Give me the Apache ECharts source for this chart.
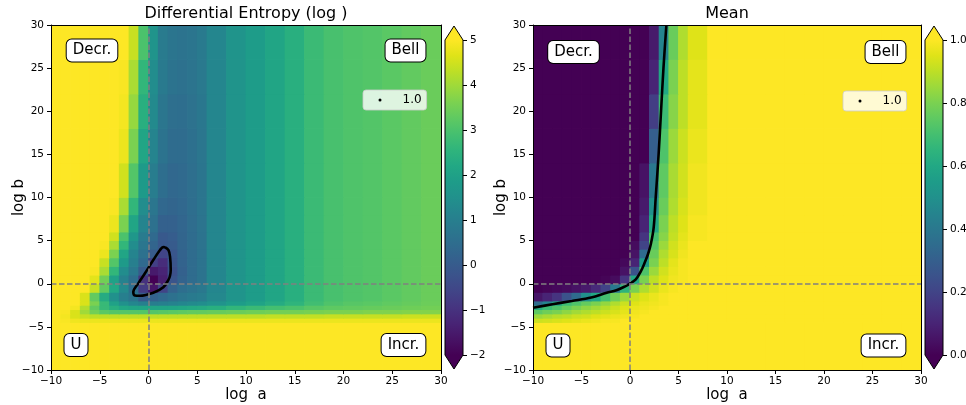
<!DOCTYPE html>
<html><head><meta charset="utf-8">
<script src="https://cdn.jsdelivr.net/npm/echarts@6/dist/echarts.min.js"></script>
<style>html,body{margin:0;padding:0;background:#fff}#c{width:966px;height:405px}</style>
</head><body><div id="c"></div>
<script>
// ---- data ----
const titles = ['Differential Entropy (log )', 'Mean'];
const xName = 'log  a';
const yName = 'log b';
const regionLabels = ['Decr.', 'Bell', 'U', 'Incr.'];
const legendLabel = '1.0';
const entropyRange = [-2, 5];
const meanRange = [0, 1];

// cell edges of the value grid (data units)
const xEdges = [-10,-9,-8,-7,-6,-5,-4,-3,-2,-1,0,1,2,3,4,5,6,8,10,12,14,16,18,20,22,24,26,28,30];
const yEdges = [-10,-4.5,-4,-3.5,-3,-2.5,-2,-1,0,1,2,3,4,5,6,8,10,14,18,22,26,30];

// differential entropy, rows from bottom (y=-10) to top (y=30)
const entropyRows = [
 [5,5,5,5,5,5,5,5,5,5,5,5,5,5,5,5,5,5,5,5,5,5,5,5,5,5,5,5],
 [5,4.95,4.85,4.8,4.8,4.8,4.8,4.8,4.8,4.8,4.8,4.8,4.8,4.8,4.8,4.8,4.8,4.8,4.8,4.8,4.8,4.8,4.8,4.8,4.8,4.8,4.8,4.8],
 [5,4.9,4.6,4.4,4.3,4.3,4.3,4.3,4.3,4.3,4.3,4.3,4.3,4.3,4.3,4.3,4.3,4.3,4.3,4.35,4.35,4.35,4.4,4.4,4.4,4.4,4.45,4.45],
 [5,4.95,4.6,4.0,3.5,3.2,3.1,3.1,3.1,3.1,3.1,3.15,3.2,3.25,3.3,3.3,3.35,3.4,3.45,3.5,3.5,3.55,3.6,3.6,3.65,3.65,3.7,3.7],
 [5,5,4.9,4.2,3.3,2.7,2.4,2.2,2.1,2.1,2.1,2.1,2.15,2.2,2.25,2.3,2.4,2.6,2.75,2.9,3.0,3.15,3.25,3.3,3.35,3.4,3.45,3.5],
 [5,5,5,4.6,3.6,2.7,2.0,1.5,1.2,1.0,0.95,1.0,1.1,1.2,1.3,1.4,1.55,1.85,2.05,2.3,2.55,2.85,3.05,3.15,3.2,3.28,3.35,3.42],
 [5,5,5,4.6,3.3,2.3,1.5,1.0,0.7,0.0,0.2,0.4,0.6,0.75,0.85,0.95,1.25,1.6,1.85,2.1,2.4,2.75,2.95,3.05,3.1,3.2,3.3,3.4],
 [5,5,5,5,4.4,3.3,2.2,1.3,0.5,-0.8,-1.6,-0.6,0.2,0.5,0.65,0.8,1.2,1.6,1.85,2.1,2.4,2.75,2.95,3.05,3.1,3.2,3.3,3.4],
 [5,5,5,5,4.7,3.5,2.0,1.1,0.5,-1.0,-2.0,-1.4,-0.2,0.2,0.45,0.65,1.2,1.6,1.85,2.1,2.4,2.75,2.95,3.05,3.1,3.2,3.3,3.4],
 [5,5,5,5,4.95,4.1,2.6,1.4,0.8,0.0,-1.5,-1.3,-0.3,0.15,0.45,0.65,1.2,1.6,1.85,2.1,2.4,2.75,2.95,3.05,3.1,3.2,3.3,3.4],
 [5,5,5,5,5,4.4,3.1,1.8,1.0,0.4,-0.7,-1.1,-0.2,0.2,0.45,0.65,1.2,1.6,1.85,2.1,2.4,2.75,2.95,3.05,3.1,3.2,3.3,3.4],
 [5,5,5,5,5,4.8,3.6,2.1,1.15,0.6,0.0,-0.6,-0.15,0.2,0.45,0.65,1.2,1.6,1.85,2.1,2.4,2.75,2.95,3.05,3.1,3.2,3.3,3.4],
 [5,5,5,5,5,4.95,4.1,2.6,1.4,0.75,0.25,-0.1,0.0,0.25,0.45,0.65,1.2,1.6,1.85,2.1,2.4,2.75,2.95,3.05,3.1,3.2,3.3,3.4],
 [5,5,5,5,5,5,4.5,3.0,1.7,0.9,0.4,-0.05,0.05,0.25,0.45,0.65,1.2,1.6,1.85,2.1,2.4,2.75,2.95,3.05,3.1,3.2,3.3,3.4],
 [5,5,5,5,5,5,4.8,3.6,2.1,1.15,0.6,0.15,0.15,0.3,0.48,0.68,1.2,1.6,1.85,2.1,2.4,2.75,2.95,3.05,3.1,3.2,3.3,3.4],
 [5,5,5,5,5,5,4.95,4.1,2.6,1.4,0.75,0.35,0.25,0.35,0.5,0.7,1.2,1.6,1.85,2.1,2.4,2.75,2.95,3.05,3.1,3.2,3.3,3.4],
 [5,5,5,5,5,5,5,4.5,3.1,1.8,0.95,0.5,0.35,0.4,0.55,0.72,1.2,1.6,1.85,2.1,2.4,2.75,2.95,3.05,3.1,3.2,3.3,3.4],
 [5,5,5,5,5,5,5,4.8,3.6,2.1,1.15,0.65,0.45,0.45,0.58,0.75,1.2,1.6,1.85,2.1,2.4,2.75,2.95,3.05,3.1,3.2,3.3,3.4],
 [5,5,5,5,5,5,5,4.9,3.9,2.4,1.3,0.75,0.55,0.52,0.62,0.78,1.2,1.6,1.85,2.1,2.4,2.75,2.95,3.05,3.1,3.2,3.3,3.4],
 [5,5,5,5,5,5,5,4.95,4.1,2.6,1.4,0.85,0.65,0.6,0.68,0.82,1.2,1.6,1.85,2.1,2.4,2.75,2.95,3.05,3.1,3.2,3.3,3.4],
 [5,5,5,5,5,5,5,5,4.4,3.0,1.6,0.9,0.7,0.65,0.7,0.85,1.2,1.6,1.85,2.1,2.4,2.75,2.95,3.05,3.1,3.2,3.3,3.4]
];

// mean, rows from bottom to top
const meanRows = [
 [1,1,1,1,1,1,1,1,1,1,1,1,1,1,1,1,1,1,1,1,1,1,1,1,1,1,1,1],
 [0.92,0.93,0.94,0.95,0.96,0.97,0.98,0.99,0.99,1,1,1,1,1,1,1,1,1,1,1,1,1,1,1,1,1,1,1],
 [0.85,0.87,0.89,0.9,0.92,0.93,0.95,0.96,0.97,0.98,0.99,1,1,1,1,1,1,1,1,1,1,1,1,1,1,1,1,1],
 [0.75,0.78,0.8,0.83,0.86,0.88,0.9,0.92,0.94,0.96,0.98,0.99,1,1,1,1,1,1,1,1,1,1,1,1,1,1,1,1],
 [0.62,0.68,0.72,0.76,0.8,0.83,0.86,0.89,0.92,0.95,0.97,0.98,0.99,1,1,1,1,1,1,1,1,1,1,1,1,1,1,1],
 [0.35,0.45,0.6,0.68,0.72,0.76,0.8,0.84,0.88,0.92,0.95,0.97,0.98,0.99,1,1,1,1,1,1,1,1,1,1,1,1,1,1],
 [0.06,0.1,0.15,0.25,0.35,0.5,0.6,0.7,0.78,0.85,0.92,0.95,0.97,0.99,1,1,1,1,1,1,1,1,1,1,1,1,1,1],
 [0,0.01,0.02,0.03,0.05,0.07,0.12,0.2,0.4,0.65,0.8,0.88,0.93,0.97,0.99,1,1,1,1,1,1,1,1,1,1,1,1,1],
 [0,0,0,0,0,0,0,0.01,0.03,0.15,0.6,0.8,0.9,0.95,0.98,0.99,1,1,1,1,1,1,1,1,1,1,1,1],
 [0,0,0,0,0,0,0,0,0,0.05,0.25,0.72,0.85,0.93,0.97,0.99,1,1,1,1,1,1,1,1,1,1,1,1],
 [0,0,0,0,0,0,0,0,0,0.02,0.1,0.55,0.8,0.9,0.96,0.99,1,1,1,1,1,1,1,1,1,1,1,1],
 [0,0,0,0,0,0,0,0,0,0,0.05,0.35,0.77,0.88,0.94,0.98,1,1,1,1,1,1,1,1,1,1,1,1],
 [0,0,0,0,0,0,0,0,0,0,0.03,0.2,0.73,0.85,0.93,0.97,1,1,1,1,1,1,1,1,1,1,1,1],
 [0,0,0,0,0,0,0,0,0,0,0,0.15,0.7,0.82,0.91,0.96,0.99,1,1,1,1,1,1,1,1,1,1,1],
 [0,0,0,0,0,0,0,0,0,0,0,0.1,0.6,0.8,0.9,0.95,0.99,1,1,1,1,1,1,1,1,1,1,1],
 [0,0,0,0,0,0,0,0,0,0,0,0.07,0.5,0.77,0.88,0.94,0.98,1,1,1,1,1,1,1,1,1,1,1],
 [0,0,0,0,0,0,0,0,0,0,0,0.05,0.4,0.75,0.87,0.93,0.98,1,1,1,1,1,1,1,1,1,1,1],
 [0,0,0,0,0,0,0,0,0,0,0,0,0.3,0.72,0.85,0.92,0.97,1,1,1,1,1,1,1,1,1,1,1],
 [0,0,0,0,0,0,0,0,0,0,0,0,0.18,0.68,0.82,0.9,0.96,1,1,1,1,1,1,1,1,1,1,1],
 [0,0,0,0,0,0,0,0,0,0,0,0,0.1,0.6,0.8,0.9,0.96,1,1,1,1,1,1,1,1,1,1,1],
 [0,0,0,0,0,0,0,0,0,0,0,0,0.07,0.45,0.77,0.88,0.95,1,1,1,1,1,1,1,1,1,1,1]
];

// contour lines (data units)
const entropyContourX = [1.69,2.05,2.21,2.28,2.2,2.03,1.52,0.49,-0.87,-1.4,-1.56,-1.05,-0.36,0.49,1.18,1.5,1.69];
const entropyContourY = [4.23,3.9,3.14,1.59,0.9,0.43,-0.41,-1.04,-1.39,-1.35,-0.95,0.05,1.21,2.75,3.91,4.25,4.23];
const meanContourX = [-10,-8,-6,-4,-2.4,-1.4,-0.5,0,0.6,1.1,1.5,1.86,2.15,2.44,2.65,2.95,3.2,3.45,3.75];
const meanContourY = [-2.78,-2.38,-2.0,-1.6,-1.05,-0.75,-0.3,0.02,0.5,1.4,2.4,3.45,4.6,6.5,10,15,20,25,30];

// ---- styling ----
const viridis = ['#440154','#471365','#482475','#463480','#414487','#3b528b','#355f8d','#2f6c8e','#2a788e','#25848e','#21918c','#1e9c89','#22a884','#2fb47c','#44bf70','#5ec962','#7ad151','#9bd93c','#bddf26','#dfe318','#fde725'];
const FONT = 'DejaVu Sans';
const minus = v => String(v).replace('-', '\u2212');

function cells(rows) {
  const out = [];
  rows.forEach((row, j) => row.forEach((v, i) => out.push([xEdges[i], yEdges[j], v, xEdges[i + 1], yEdges[j + 1]])));
  return out;
}
function renderCell(params, api) {
  const p0 = api.coord([api.value(0), api.value(1)]);
  const p1 = api.coord([api.value(3), api.value(4)]);
  const x = Math.min(p0[0], p1[0]), y = Math.min(p0[1], p1[1]);
  return { type: 'rect', shape: { x: x - 0.4, y: y - 0.4, width: Math.abs(p1[0] - p0[0]) + 0.8, height: Math.abs(p1[1] - p0[1]) + 0.8 },
    style: { fill: api.visual('color') } };
}
function cbRender(range) {
  return function (params, api) {
    const a = api.coord([0, range[0]]), b = api.coord([1, range[1]]);
    const x0 = a[0], x1 = b[0], yb = a[1], yt = b[1], xm = (x0 + x1) / 2, h = 14;
    const stops = viridis.map((c, i) => ({ offset: i / (viridis.length - 1), color: c }));
    return { type: 'group', children: [
      { type: 'rect', shape: { x: x0, y: yt, width: x1 - x0, height: yb - yt }, style: { fill: new echarts.graphic.LinearGradient(0, 1, 0, 0, stops) } },
      { type: 'polygon', shape: { points: [[x0, yt], [xm, yt - h], [x1, yt]] }, style: { fill: viridis[viridis.length - 1] } },
      { type: 'polygon', shape: { points: [[x0, yb], [xm, yb + h], [x1, yb]] }, style: { fill: viridis[0] } },
      { type: 'polygon', shape: { points: [[x0, yb], [x0, yt], [xm, yt - h], [x1, yt], [x1, yb], [xm, yb + h]] }, style: { fill: 'none', stroke: '#000', lineWidth: 1 } }
    ] };
  };
}

const grids = [
  { left: 51, top: 25, width: 390, height: 345, outerBoundsMode: 'none' },
  { left: 533, top: 25, width: 388, height: 345, outerBoundsMode: 'none' },
  { left: 445, top: 40, width: 18, height: 315, outerBoundsMode: 'none' },
  { left: 925, top: 40, width: 18, height: 315, outerBoundsMode: 'none' }
];
const labelStyle = { color: '#000', fontSize: 10.5, fontFamily: FONT };
const spine = { onZero: false, lineStyle: { color: '#000', width: 1 } };
function mainX(g) {
  return [
    { gridIndex: g, type: 'value', min: -10, max: 30, interval: 5, position: 'bottom', z: 5,
      axisLine: spine, axisTick: { length: 4, lineStyle: { color: '#000' } },
      axisLabel: Object.assign({ margin: 6, formatter: minus }, labelStyle), splitLine: { show: false },
      name: xName, nameLocation: 'middle', nameGap: 18, nameMoveOverlap: false,
      nameTextStyle: { fontSize: 15, color: '#000', fontFamily: FONT } },
    { gridIndex: g, type: 'value', min: -10, max: 30, position: 'top', z: 5,
      axisLine: spine, axisTick: { show: false }, axisLabel: { show: false }, splitLine: { show: false } }
  ];
}
function mainY(g) {
  return [
    { gridIndex: g, type: 'value', min: -10, max: 30, interval: 5, position: 'left', z: 5,
      axisLine: spine, axisTick: { length: 4, lineStyle: { color: '#000' } },
      axisLabel: Object.assign({ margin: 7, formatter: minus }, labelStyle), splitLine: { show: false },
      name: yName, nameLocation: 'middle', nameGap: 24, nameRotate: 90, nameMoveOverlap: false,
      nameTextStyle: { fontSize: 15, color: '#000', fontFamily: FONT } },
    { gridIndex: g, type: 'value', min: -10, max: 30, position: 'right', z: 5,
      axisLine: spine, axisTick: { show: false }, axisLabel: { show: false }, splitLine: { show: false } }
  ];
}
function cbY(g, range, interval, fmt) {
  return { gridIndex: g, type: 'value', min: range[0], max: range[1], interval: interval, position: 'right', z: 5,
    axisLine: { show: false, onZero: false }, axisTick: { show: true, length: 4, lineStyle: { color: '#000' } },
    axisLabel: Object.assign({ margin: 7, formatter: fmt }, labelStyle), splitLine: { show: false } };
}
function cbX(g) {
  return { gridIndex: g, type: 'value', min: 0, max: 1, show: false };
}

const dashed = { silent: true, symbol: ['none', 'none'], label: { show: false },
  lineStyle: { color: '#808080', type: [5.5, 2.5], width: 1.5 }, emphasis: { disabled: true },
  data: [{ xAxis: 0 }, { yAxis: 0 }] };

const legendBase = { data: [legendLabel], orient: 'horizontal', icon: 'circle', itemWidth: 3, itemHeight: 3, itemGap: 0,
  padding: [4, 5, 4, 15.5], backgroundColor: 'rgba(255,255,255,0.8)', borderColor: 'rgba(204,204,204,0.8)', borderWidth: 1, borderRadius: 3,
  textStyle: { fontSize: 12, color: '#000', fontFamily: FONT, padding: [0, 0, 0, 16] }, selectedMode: false };

const boxPos = [
  [[92, 50.5], [405.5, 50.5], [76, 345], [403.5, 345]],
  [[573.5, 52], [885.5, 52], [558, 345.5], [883.5, 345.5]]
];
const graphics = [];
boxPos.forEach(panel => panel.forEach((p, k) => graphics.push({
  type: 'text', x: p[0], y: p[1], z: 100,
  style: { text: regionLabels[k], font: '15px "DejaVu Sans"', fill: '#000', align: 'center', verticalAlign: 'middle',
    backgroundColor: '#fff', borderColor: '#000', borderWidth: 1, borderRadius: 5, padding: [4, 6, 3, 6] }
})));

const option = {
  animation: false,
  backgroundColor: '#fff',
  textStyle: { fontFamily: FONT },
  title: [
    { text: titles[0], left: 246, top: 6, textAlign: 'center', padding: 0, textStyle: { fontSize: 16, fontWeight: 'normal', color: '#000', fontFamily: FONT } },
    { text: titles[1], left: 727, top: 6, textAlign: 'center', padding: 0, textStyle: { fontSize: 16, fontWeight: 'normal', color: '#000', fontFamily: FONT } }
  ],
  grid: grids,
  xAxis: [].concat(mainX(0), mainX(1), [cbX(2), cbX(3)]),
  yAxis: [].concat(mainY(0), mainY(1), [cbY(2, entropyRange, 1, minus), cbY(3, meanRange, 0.2, v => Number(v).toFixed(1))]),
  visualMap: [
    { type: 'continuous', show: false, seriesIndex: 0, dimension: 2, min: entropyRange[0], max: entropyRange[1], inRange: { color: viridis } },
    { type: 'continuous', show: false, seriesIndex: 1, dimension: 2, min: meanRange[0], max: meanRange[1], inRange: { color: viridis } }
  ],
  legend: [
    Object.assign({ left: 363, top: 90 }, legendBase),
    Object.assign({ left: 843, top: 91 }, legendBase)
  ],
  graphic: graphics,
  series: [
    { type: 'custom', name: 'entropy', xAxisIndex: 0, yAxisIndex: 0, clip: true, silent: true, z: 1,
      encode: { x: [0, 3], y: [1, 4] }, renderItem: renderCell, data: cells(entropyRows) },
    { type: 'custom', name: 'mean', xAxisIndex: 2, yAxisIndex: 2, clip: true, silent: true, z: 1,
      encode: { x: [0, 3], y: [1, 4] }, renderItem: renderCell, data: cells(meanRows) },
    { type: 'line', name: legendLabel, xAxisIndex: 0, yAxisIndex: 0, smooth: 0.35, symbol: 'none', z: 4, color: '#000',
      itemStyle: { color: '#000' }, lineStyle: { color: '#000', width: 2.6 }, silent: true,
      data: entropyContourX.map((x, i) => [x, entropyContourY[i]]), markLine: dashed },
    { type: 'line', name: legendLabel, xAxisIndex: 2, yAxisIndex: 2, smooth: 0.35, symbol: 'none', z: 4, color: '#000',
      itemStyle: { color: '#000' }, lineStyle: { color: '#000', width: 2.6 }, silent: true,
      data: meanContourX.map((x, i) => [x, meanContourY[i]]), markLine: dashed },
    { type: 'custom', xAxisIndex: 4, yAxisIndex: 4, silent: true, renderItem: cbRender(entropyRange), data: [[0, entropyRange[0]]] },
    { type: 'custom', xAxisIndex: 5, yAxisIndex: 5, silent: true, renderItem: cbRender(meanRange), data: [[0, meanRange[0]]] }
  ]
};
echarts.init(document.getElementById('c'), null, { renderer: 'canvas' }).setOption(option);
</script>
</body></html>
